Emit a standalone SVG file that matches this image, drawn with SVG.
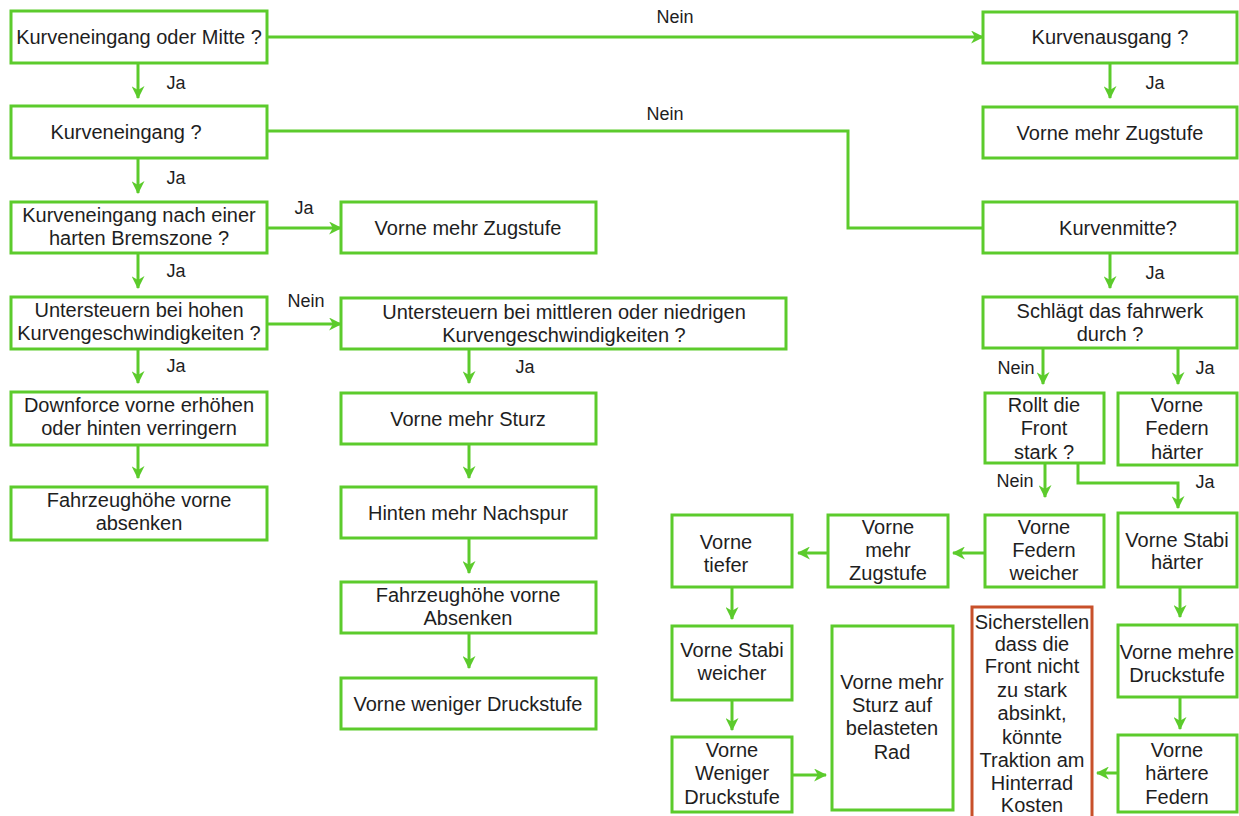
<svg xmlns="http://www.w3.org/2000/svg" width="1239" height="816" viewBox="0 0 1239 816">
<defs>
<style>
.b{fill:#fff;stroke:#5ccb2c;stroke-width:3}
.r{fill:#fff;stroke:#c8502a;stroke-width:3}
.c{fill:none;stroke:#5ccb2c;stroke-width:3}
text{font-family:"Liberation Sans",Arial,sans-serif;font-size:20px;fill:#1e1e1e;text-anchor:middle}
.l{font-size:18px}
</style>
<marker id="a" viewBox="0 0 12 12" markerWidth="13" markerHeight="13" refX="11" refY="6" orient="auto" markerUnits="userSpaceOnUse">
<path d="M0,0 L12,6 L0,12 L3.5,6 z" fill="#5ccb2c"/>
</marker>
</defs>
<rect width="1239" height="816" fill="#fff"/>
<g id="connectors">
<path class="c" d="M267,37 H983" marker-end="url(#a)"/>
<path class="c" d="M267,131 H848 V228 H983"/>
<path class="c" d="M138,63 V98" marker-end="url(#a)"/>
<path class="c" d="M138,158 V193" marker-end="url(#a)"/>
<path class="c" d="M138,253 V288" marker-end="url(#a)"/>
<path class="c" d="M138,349 V383" marker-end="url(#a)"/>
<path class="c" d="M138,445 V478" marker-end="url(#a)"/>
<path class="c" d="M267,228 H341" marker-end="url(#a)"/>
<path class="c" d="M267,324 H341" marker-end="url(#a)"/>
<path class="c" d="M469,349 V383" marker-end="url(#a)"/>
<path class="c" d="M469,444 V478" marker-end="url(#a)"/>
<path class="c" d="M469,538 V573" marker-end="url(#a)"/>
<path class="c" d="M469,633 V668" marker-end="url(#a)"/>
<path class="c" d="M1110,63 V98" marker-end="url(#a)"/>
<path class="c" d="M1110,253 V288" marker-end="url(#a)"/>
<path class="c" d="M1043,348 V384" marker-end="url(#a)"/>
<path class="c" d="M1178,348 V384" marker-end="url(#a)"/>
<path class="c" d="M1045,463 V497" marker-end="url(#a)"/>
<path class="c" d="M1078,463 V483 H1178 V508" marker-end="url(#a)"/>
<path class="c" d="M985,553 H953" marker-end="url(#a)"/>
<path class="c" d="M828,553 H798" marker-end="url(#a)"/>
<path class="c" d="M732,587 V619" marker-end="url(#a)"/>
<path class="c" d="M732,700 V730" marker-end="url(#a)"/>
<path class="c" d="M792,775 H826" marker-end="url(#a)"/>
<path class="c" d="M1180,587 V617" marker-end="url(#a)"/>
<path class="c" d="M1180,697 V729" marker-end="url(#a)"/>
<path class="c" d="M1118,773 H1097" marker-end="url(#a)"/>
<text class="l" x="675" y="23">Nein</text>
<text class="l" x="665" y="120">Nein</text>
<text class="l" x="176" y="89">Ja</text>
<text class="l" x="176" y="184">Ja</text>
<text class="l" x="176" y="277">Ja</text>
<text class="l" x="176" y="372">Ja</text>
<text class="l" x="304" y="214">Ja</text>
<text class="l" x="306" y="307">Nein</text>
<text class="l" x="525" y="373">Ja</text>
<text class="l" x="1155" y="89">Ja</text>
<text class="l" x="1155" y="279">Ja</text>
<text class="l" x="1016" y="374">Nein</text>
<text class="l" x="1205" y="374">Ja</text>
<text class="l" x="1015" y="487">Nein</text>
<text class="l" x="1205" y="488">Ja</text>
</g>
<g id="n1"><rect class="b" x="11" y="11" width="256" height="52"/><text x="139" y="44">Kurveneingang oder Mitte ?</text></g>
<g id="n2"><rect class="b" x="11" y="106" width="256" height="52"/><text x="126" y="139">Kurveneingang ?</text></g>
<g id="n3"><rect class="b" x="11" y="202" width="256" height="51"/><text x="139" y="222">Kurveneingang nach einer</text><text x="139" y="245">harten Bremszone ?</text></g>
<g id="n4"><rect class="b" x="11" y="297" width="256" height="52"/><text x="139" y="317">Untersteuern bei hohen</text><text x="139" y="340">Kurvengeschwindigkeiten ?</text></g>
<g id="n5"><rect class="b" x="11" y="392" width="256" height="53"/><text x="139" y="412">Downforce vorne erhöhen</text><text x="139" y="435">oder hinten verringern</text></g>
<g id="n6"><rect class="b" x="11" y="487" width="256" height="53"/><text x="139" y="507">Fahrzeughöhe vorne</text><text x="139" y="530">absenken</text></g>
<g id="n7"><rect class="b" x="341" y="202" width="255" height="51"/><text x="468" y="235">Vorne mehr Zugstufe</text></g>
<g id="n8"><rect class="b" x="341" y="298" width="445" height="51"/><text x="564" y="319">Untersteuern bei mittleren oder niedrigen</text><text x="564" y="342">Kurvengeschwindigkeiten ?</text></g>
<g id="n9"><rect class="b" x="341" y="393" width="255" height="51"/><text x="468" y="426">Vorne mehr Sturz</text></g>
<g id="n10"><rect class="b" x="341" y="487" width="255" height="51"/><text x="468" y="520">Hinten mehr Nachspur</text></g>
<g id="n11"><rect class="b" x="341" y="582" width="255" height="51"/><text x="468" y="602">Fahrzeughöhe vorne</text><text x="468" y="625">Absenken</text></g>
<g id="n12"><rect class="b" x="341" y="678" width="255" height="51"/><text x="468" y="711">Vorne weniger Druckstufe</text></g>
<g id="n13"><rect class="b" x="983" y="12" width="254" height="51"/><text x="1110" y="44">Kurvenausgang ?</text></g>
<g id="n14"><rect class="b" x="983" y="107" width="254" height="51"/><text x="1110" y="140">Vorne mehr Zugstufe</text></g>
<g id="n15"><rect class="b" x="983" y="202" width="254" height="51"/><text x="1118" y="235">Kurvenmitte?</text></g>
<g id="n16"><rect class="b" x="983" y="297" width="254" height="51"/><text x="1110" y="318">Schlägt das fahrwerk</text><text x="1110" y="341">durch ?</text></g>
<g id="n17"><rect class="b" x="985" y="393" width="119" height="70"/><text x="1044" y="412">Rollt die</text><text x="1044" y="435">Front</text><text x="1044" y="459">stark ?</text></g>
<g id="n18"><rect class="b" x="1118" y="393" width="119" height="72"/><text x="1177" y="412">Vorne</text><text x="1177" y="435">Federn</text><text x="1177" y="459">härter</text></g>
<g id="n19"><rect class="b" x="985" y="515" width="119" height="72"/><text x="1044" y="534">Vorne</text><text x="1044" y="557">Federn</text><text x="1044" y="580">weicher</text></g>
<g id="n20"><rect class="b" x="1118" y="513" width="119" height="74"/><text x="1177" y="547">Vorne Stabi</text><text x="1177" y="569">härter</text></g>
<g id="n21"><rect class="b" x="828" y="515" width="120" height="72"/><text x="888" y="534">Vorne</text><text x="888" y="557">mehr</text><text x="888" y="580">Zugstufe</text></g>
<g id="n22"><rect class="b" x="672" y="515" width="120" height="72"/><text x="726" y="549">Vorne</text><text x="726" y="572">tiefer</text></g>
<g id="n23"><rect class="b" x="672" y="626" width="120" height="74"/><text x="732" y="657">Vorne Stabi</text><text x="732" y="680">weicher</text></g>
<g id="n24"><rect class="b" x="672" y="737" width="120" height="75"/><text x="732" y="757">Vorne</text><text x="732" y="780">Weniger</text><text x="732" y="804">Druckstufe</text></g>
<g id="n25"><rect class="b" x="832" y="626" width="121" height="184"/><text x="892" y="689">Vorne mehr</text><text x="892" y="712">Sturz auf</text><text x="892" y="735">belasteten</text><text x="892" y="759">Rad</text></g>
<g id="n26"><rect class="r" x="972" y="607" width="120" height="225"/><text x="1032" y="629">Sicherstellen</text><text x="1032" y="651">dass die</text><text x="1032" y="673">Front nicht</text><text x="1032" y="697">zu stark</text><text x="1032" y="720">absinkt,</text><text x="1032" y="744">könnte</text><text x="1032" y="767">Traktion am</text><text x="1032" y="790">Hinterrad</text><text x="1032" y="812">Kosten</text></g>
<g id="n27"><rect class="b" x="1118" y="625" width="119" height="72"/><text x="1177" y="659">Vorne mehre</text><text x="1177" y="682">Druckstufe</text></g>
<g id="n28"><rect class="b" x="1118" y="735" width="119" height="77"/><text x="1177" y="757">Vorne</text><text x="1177" y="780">härtere</text><text x="1177" y="804">Federn</text></g>
</svg>
